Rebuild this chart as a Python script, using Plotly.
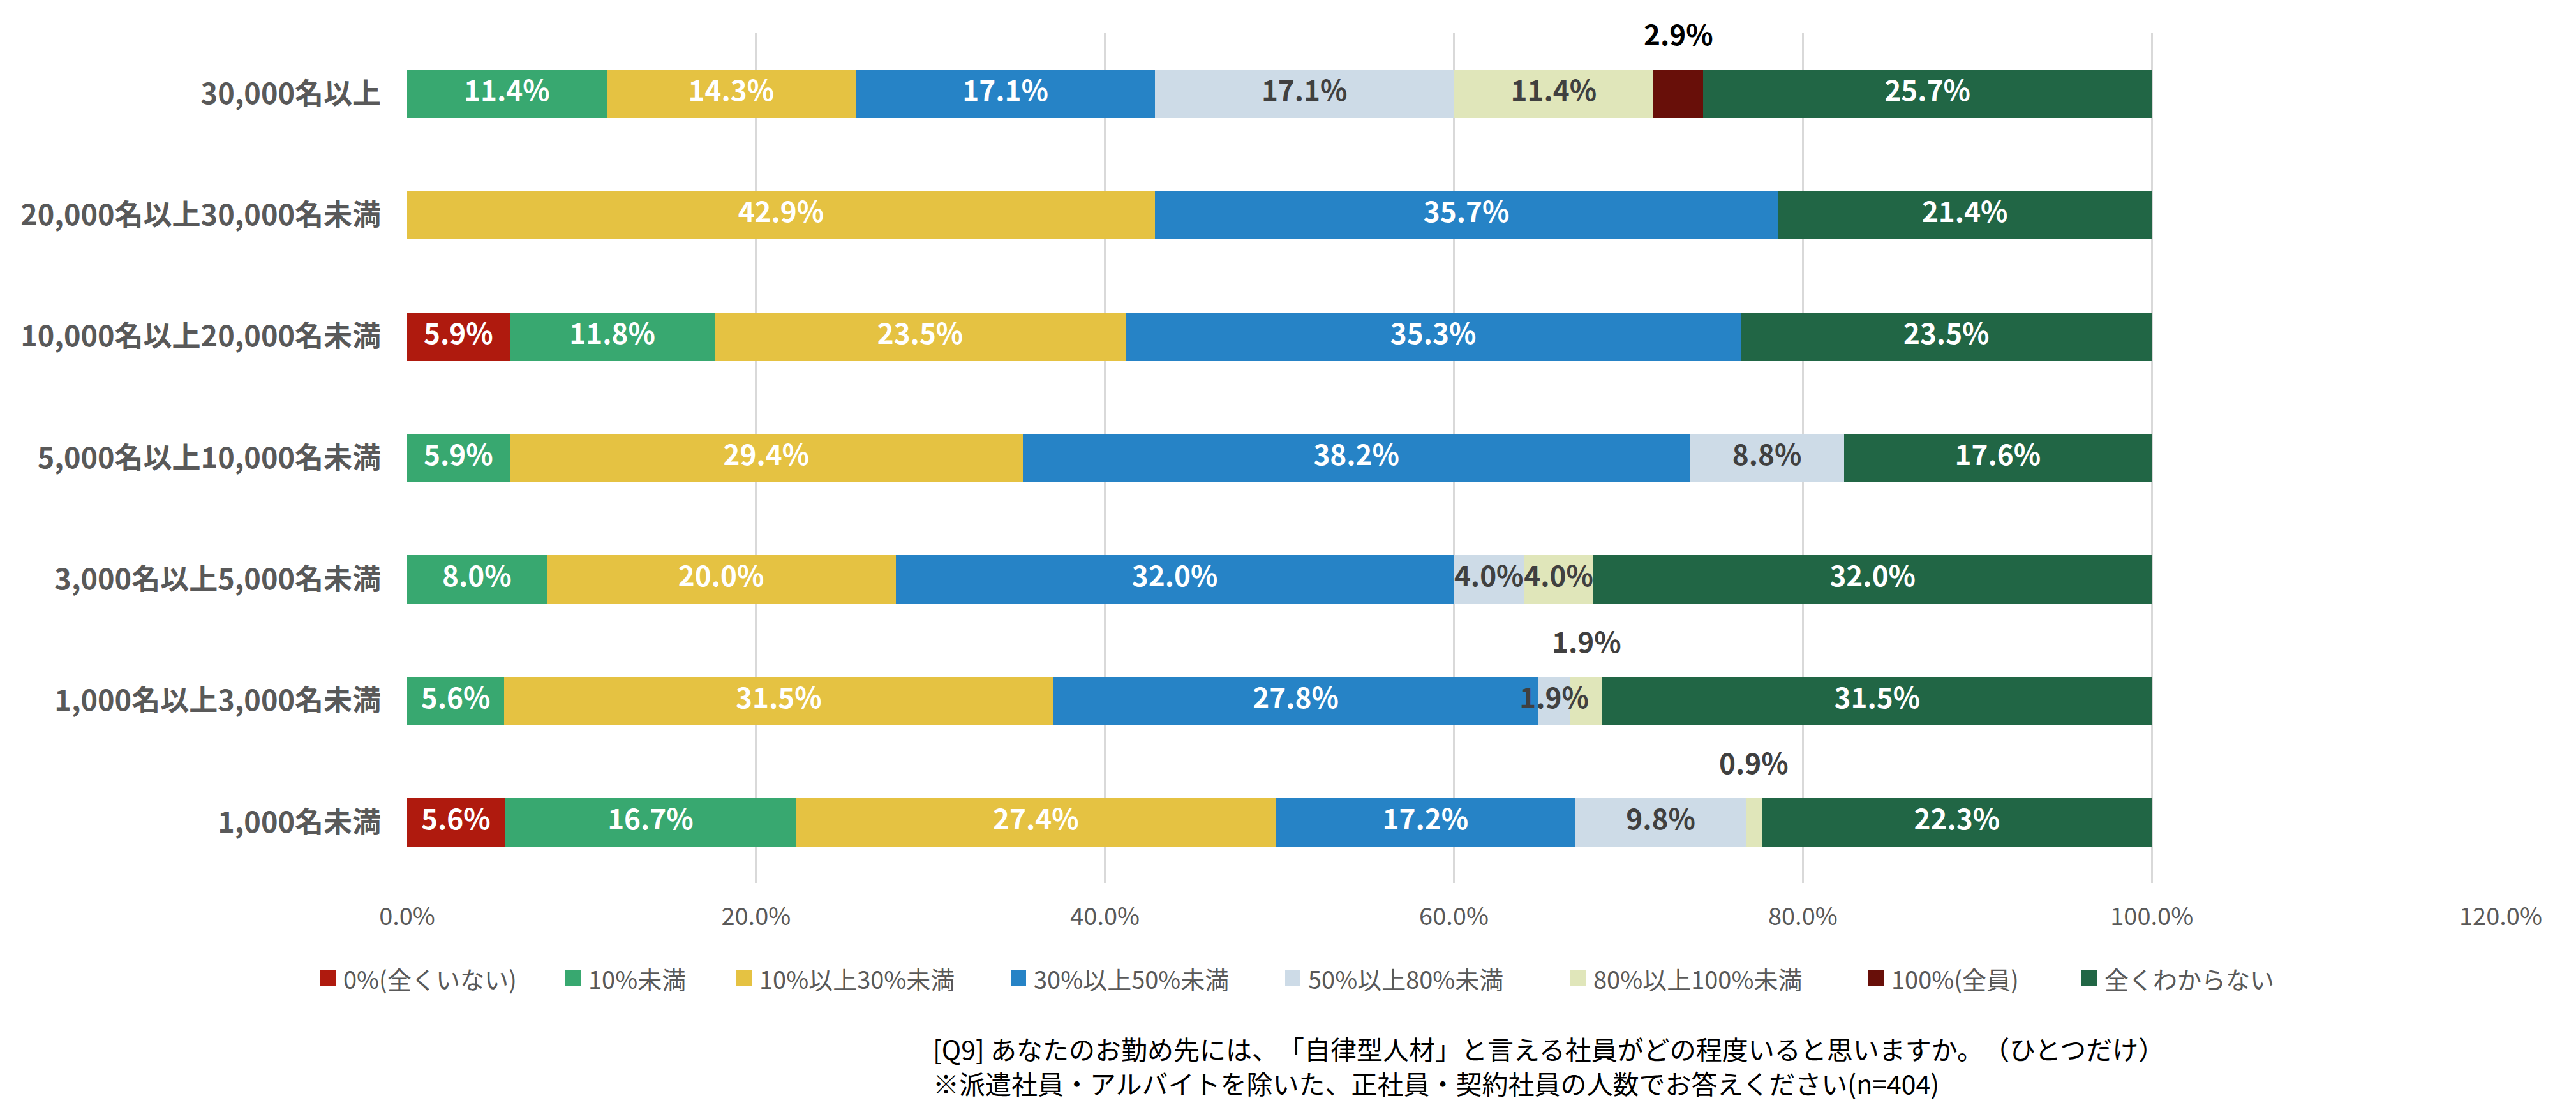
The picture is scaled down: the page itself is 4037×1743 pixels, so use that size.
import plotly.graph_objects as go

# ---------------- data ----------------
categories = ["30,000名以上", "20,000名以上30,000名未満", "10,000名以上20,000名未満",
              "5,000名以上10,000名未満", "3,000名以上5,000名未満", "1,000名以上3,000名未満",
              "1,000名未満"]
series_names = ["0%(全くいない)", "10%未満", "10%以上30%未満", "30%以上50%未満",
                "50%以上80%未満", "80%以上100%未満", "100%(全員)", "全くわからない"]
v_none = [0, 0, 5.88, 0, 0, 0, 5.58]
v_lt10 = [11.43, 0, 11.76, 5.88, 8.0, 5.56, 16.74]
v_10_30 = [14.29, 42.86, 23.53, 29.41, 20.0, 31.48, 27.44]
v_30_50 = [17.14, 35.71, 35.29, 38.24, 32.0, 27.78, 17.21]
v_50_80 = [17.14, 0, 0, 8.82, 4.0, 1.85, 9.77]
v_80_100 = [11.43, 0, 0, 0, 4.0, 1.85, 0.93]
v_all = [2.86, 0, 0, 0, 0, 0, 0]
v_unknown = [25.71, 21.43, 23.53, 17.65, 32.0, 31.48, 22.33]
x_ticks = [0, 20, 40, 60, 80, 100, 120]
x_tick_labels = ["0.0%", "20.0%", "40.0%", "60.0%", "80.0%", "100.0%", "120.0%"]
# labels drawn above the bar: (series index, category index)
outside_labels = [(6, 0), (5, 5), (5, 6)]
footnote = ["[Q9] あなたのお勤め先には、\u200b「自律型人材」と言える社員がどの程度いると思いますか。\u200b（ひとつだけ）",
            "※派遣社員・アルバイトを除いた、正社員・契約社員の人数でお答えください(n=404)"]

series_values = [v_none, v_lt10, v_10_30, v_30_50, v_50_80, v_80_100, v_all, v_unknown]

# ---------------- styles ----------------
colors = ["#AF1A0E", "#38A870", "#E5C242", "#2683C6", "#CDDBE7", "#E0E6BA", "#680F09", "#216645"]
label_colors = ["#FFFFFF", "#FFFFFF", "#FFFFFF", "#FFFFFF", "#404040", "#404040", "#FFFFFF", "#FFFFFF"]
outside_colors = {(6, 0): "#000000", (5, 5): "#404040", (5, 6): "#404040"}
FONT = "Noto Sans CJK JP"
OFF = 8  # default page body margin
W, H = 4037 - OFF, 1743 - OFF
PLOT_L, PLOT_R, PLOT_T, PLOT_B = 638, 3919, 52, 1384  # in page pixels
L, T = PLOT_L - OFF, PLOT_T - OFF
R, B = W - (PLOT_R - OFF), H - (PLOT_B - OFF)
PW, PH = PLOT_R - PLOT_L, PLOT_B - PLOT_T


def px2x(px):
    return (px - PLOT_L) / PW


def py2y(py):
    return (PLOT_B - py) / PH


fig = go.Figure()
for si, (name, vals) in enumerate(zip(series_names, series_values)):
    fig.add_trace(go.Bar(
        orientation="h", y=categories, x=vals, name=name,
        marker=dict(color=colors[si], line=dict(width=0)),
        showlegend=False, hoverinfo="name+x",
    ))

# inside labels as a text layer on top of all bars
outside_set = set(outside_labels)
lx, ly, lt, lc = [], [], [], []
annotations = []
for ci, cat in enumerate(categories):
    start = 0.0
    for si, vals in enumerate(series_values):
        v = vals[ci]
        if v > 0:
            if (si, ci) in outside_set:
                annotations.append(dict(
                    x=start + v / 2, y=cat, xref="x", yref="y",
                    text=f"{v:.1f}%", showarrow=False, yshift=95,
                    font=dict(family=FONT, size=44, color=outside_colors[(si, ci)], weight="bold"),
                ))
            else:
                lx.append(start + v / 2)
                ly.append(cat)
                lt.append(f"{v:.1f}%")
                lc.append(label_colors[si])
        start += v

fig.add_trace(go.Scatter(
    x=lx, y=ly, text=lt, mode="text", textposition="middle center",
    textfont=dict(family=FONT, size=44, color=lc, weight="bold"),
    showlegend=False, hoverinfo="skip",
))

# custom legend
LEGEND_X = [502, 886, 1154, 1584, 2014, 2461, 2928, 3262]
LEGEND_Y = 1533
shapes = []
for i, name in enumerate(series_names):
    mx = LEGEND_X[i]
    shapes.append(dict(type="rect", xref="paper", yref="paper",
                       x0=px2x(mx), x1=px2x(mx + 24),
                       y0=py2y(LEGEND_Y + 12), y1=py2y(LEGEND_Y - 12),
                       fillcolor=colors[i], line=dict(width=0)))
    annotations.append(dict(x=px2x(mx + 34), y=py2y(LEGEND_Y), xref="paper", yref="paper",
                            xanchor="left", yanchor="middle", showarrow=False, text=name,
                            font=dict(family=FONT, size=38, color="#595959")))

# footnote
for line, py in zip(footnote, [1643, 1697]):
    annotations.append(dict(x=px2x(1460), y=py2y(py), xref="paper", yref="paper",
                            xanchor="left", yanchor="middle", showarrow=False, text=line,
                            font=dict(family=FONT, size=41, color="#000000")))

fig.update_layout(
    width=W, height=H, autosize=False,
    margin=dict(l=L, r=R, t=T, b=B, pad=0),
    barmode="stack", bargap=0.6,
    paper_bgcolor="white", plot_bgcolor="white",
    font=dict(family=FONT, color="#595959"),
    showlegend=False,
    annotations=annotations, shapes=shapes,
    xaxis=dict(range=[0, 120], tickmode="array", tickvals=x_ticks, ticktext=x_tick_labels,
               showgrid=True, gridcolor="#D9D9D9", gridwidth=3, zeroline=False,
               showline=False, ticks="", ticklabelstandoff=27, automargin=False,
               tickfont=dict(family=FONT, size=38, color="#595959")),
    yaxis=dict(type="category", range=[6.5, -0.5], showgrid=False, zeroline=False,
               showline=False, ticks="", ticklabelstandoff=40, automargin=False,
               tickfont=dict(family=FONT, size=45, color="#595959", weight="bold")),
)

fig.write_html("out.html")
